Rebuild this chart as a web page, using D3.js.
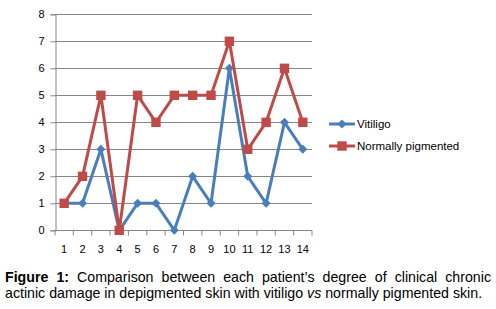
<!DOCTYPE html>
<html>
<head>
<meta charset="utf-8">
<script src="https://cdn.jsdelivr.net/npm/d3@7"></script>
<style>
  body { margin: 0; background: #fff; }
  svg { display: block; }
</style>
</head>
<body>
<div id="chart"></div>
<script>
const patients = [1, 2, 3, 4, 5, 6, 7, 8, 9, 10, 11, 12, 13, 14];
const vitiligo = [1, 1, 3, 0, 1, 1, 0, 2, 1, 6, 2, 1, 4, 3];
const normal = [1, 2, 5, 0, 5, 4, 5, 5, 5, 7, 3, 4, 6, 4];
const yTicks = [0, 1, 2, 3, 4, 5, 6, 7, 8];
const seriesNames = ["Vitiligo", "Normally pigmented"];

let width = 496, height = 309;
let margin = ({ top: 14.3, right: 184, bottom: 78.7, left: 55 });

const svg = d3.select("#chart").append("svg")
  .attr("width", width).attr("height", height);

let x = d3.scaleBand()
  .domain(patients)
  .range([margin.left, width - margin.right]);

let y = d3.scaleLinear()
  .domain([0, 8])
  .range([height - margin.bottom, margin.top]);

const axisFont = "'Liberation Sans', Arial, sans-serif";

// gridlines
svg.append("g")
  .selectAll("line")
  .data(yTicks.filter(d => d > 0))
  .join("line")
  .attr("x1", margin.left).attr("x2", width - margin.right)
  .attr("y1", d => Math.round(y(d)) + 0.5).attr("y2", d => Math.round(y(d)) + 0.5)
  .attr("stroke", "#868686").attr("stroke-width", 1);

// y axis
const yAxis = svg.append("g")
  .attr("transform", `translate(${margin.left + 0.5},0)`)
  .call(d3.axisLeft(y).tickValues(yTicks).tickSize(5).tickPadding(6).tickFormat(d3.format("d")));
yAxis.selectAll("path, line").attr("stroke", "#868686");
yAxis.selectAll("text").attr("font-family", axisFont).attr("font-size", 11).attr("fill", "#000");

// x axis, ticks between categories
const xAxis = svg.append("g")
  .attr("transform", `translate(0,${Math.round(y(0)) + 0.5})`);
xAxis.append("line")
  .attr("x1", margin.left).attr("x2", width - margin.right)
  .attr("stroke", "#868686");
xAxis.selectAll(".tk")
  .data(patients.map(p => x(p)).concat([x(14) + x.bandwidth()]))
  .join("line").attr("class", "tk")
  .attr("x1", d => d).attr("x2", d => d)
  .attr("y1", 0).attr("y2", 5)
  .attr("stroke", "#868686");
xAxis.selectAll("text")
  .data(patients)
  .join("text")
  .attr("x", d => x(d) + x.bandwidth() / 2)
  .attr("y", 22)
  .attr("text-anchor", "middle")
  .attr("font-family", axisFont).attr("font-size", 11)
  .text(d => d);

const cx = d => x(d) + x.bandwidth() / 2;
const line = d3.line().x((d, i) => cx(patients[i])).y(d => y(d));

const blue = "#4A7EBB", red = "#BE4B48";

// vitiligo first, normally pigmented on top
svg.append("path").datum(vitiligo)
  .attr("d", line).attr("fill", "none")
  .attr("stroke", blue).attr("stroke-width", 3).attr("stroke-linejoin", "round");
svg.append("g").selectAll("path")
  .data(vitiligo)
  .join("path")
  .attr("transform", (d, i) => `translate(${cx(patients[i])},${y(d)}) rotate(45)`)
  .attr("d", "M-3.2,-3.2H3.2V3.2H-3.2Z")
  .attr("fill", blue);

svg.append("path").datum(normal)
  .attr("d", line).attr("fill", "none")
  .attr("stroke", red).attr("stroke-width", 3).attr("stroke-linejoin", "round");
svg.append("g").selectAll("rect")
  .data(normal)
  .join("rect")
  .attr("x", (d, i) => cx(patients[i]) - 4.7)
  .attr("y", d => y(d) - 4.7)
  .attr("width", 9.4).attr("height", 9.4)
  .attr("fill", red);

// legend
const legend = svg.append("g").attr("transform", "translate(329,124)");
[blue, red].forEach((c, i) => {
  const g = legend.append("g").attr("transform", `translate(0,${i * 22})`);
  g.append("line").attr("x1", 0).attr("x2", 26).attr("stroke", c).attr("stroke-width", 3);
  if (i === 0) {
    g.append("path").attr("transform", "translate(13,0) rotate(45)")
      .attr("d", "M-3.2,-3.2H3.2V3.2H-3.2Z").attr("fill", c);
  } else {
    g.append("rect").attr("x", 8.3).attr("y", -4.7).attr("width", 9.4).attr("height", 9.4).attr("fill", c);
  }
  g.append("text").attr("x", 28).attr("y", 4)
    .attr("font-family", axisFont).attr("font-size", 11.5)
    .text(seriesNames[i]);
});

// caption, justified first line
const capFont = "'Liberation Sans', Arial, sans-serif";
const cap1 = [["Figure", true], ["1:", true], ["Comparison", false], ["between", false], ["each", false],
  ["patient’s", false], ["degree", false], ["of", false], ["clinical", false], ["chronic", false]];
const left = 5, right = 491;
const words = svg.append("g").attr("font-family", capFont).attr("font-size", 14.2);
const ws = cap1.map(([w, b]) => words.append("text").attr("y", 281.5)
  .attr("font-weight", b ? "bold" : "normal").text(w));
const widths = ws.map(t => t.node().getComputedTextLength());
const gap = (right - left - d3.sum(widths)) / (cap1.length - 1);
let pos = left;
ws.forEach((t, i) => { t.attr("x", pos); pos += widths[i] + gap; });

const l2 = words.append("text").attr("x", left).attr("y", 298);
l2.append("tspan").text("actinic damage in depigmented skin with vitiligo ");
l2.append("tspan").attr("font-style", "italic").text("vs");
l2.append("tspan").text(" normally pigmented skin.");
</script>
</body>
</html>
